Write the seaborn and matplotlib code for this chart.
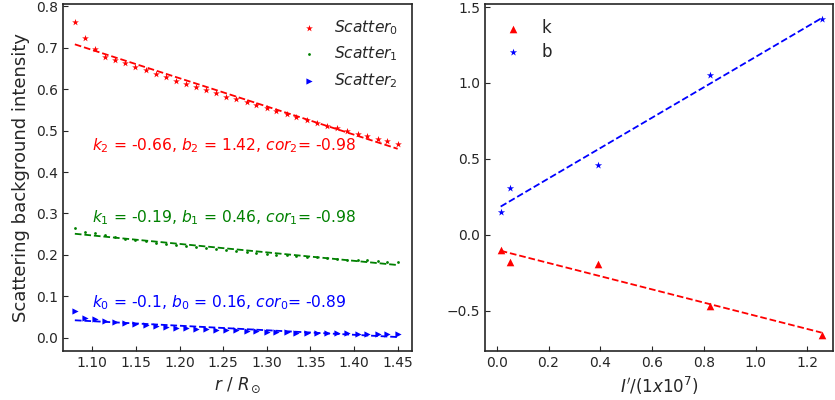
import matplotlib
matplotlib.use("Agg")
import matplotlib.pyplot as plt
import numpy as np
import pandas as pd
import seaborn as sns

# radial distance r / R_sun
r = [1.080, 1.092, 1.103, 1.115, 1.126, 1.138, 1.149, 1.161, 1.173, 1.184, 1.196,
     1.207, 1.219, 1.230, 1.242, 1.253, 1.265, 1.277, 1.288, 1.300, 1.311, 1.323,
     1.334, 1.346, 1.358, 1.369, 1.381, 1.392, 1.404, 1.415, 1.427, 1.438, 1.450]

scatter0 = [0.762, 0.722, 0.697, 0.678, 0.670, 0.662, 0.653, 0.645, 0.637, 0.628, 0.620,
            0.613, 0.605, 0.597, 0.590, 0.582, 0.575, 0.568, 0.561, 0.554, 0.547, 0.540,
            0.533, 0.526, 0.519, 0.512, 0.505, 0.499, 0.492, 0.486, 0.480, 0.474, 0.468]
scatter1 = [0.265, 0.256, 0.252, 0.247, 0.243, 0.239, 0.236, 0.233, 0.230, 0.227, 0.224,
            0.221, 0.219, 0.216, 0.214, 0.211, 0.209, 0.207, 0.205, 0.203, 0.201, 0.199,
            0.197, 0.196, 0.194, 0.192, 0.191, 0.189, 0.188, 0.187, 0.185, 0.184, 0.183]
scatter2 = [0.065, 0.048, 0.045, 0.041, 0.038, 0.035, 0.033, 0.031, 0.029, 0.027, 0.025,
            0.024, 0.022, 0.021, 0.020, 0.019, 0.018, 0.017, 0.016, 0.015, 0.015, 0.014,
            0.013, 0.013, 0.012, 0.012, 0.011, 0.011, 0.010, 0.010, 0.010, 0.009, 0.009]

fit_texts = ["$k_0$ = -0.1, $b_0$ = 0.16, $cor_0$= -0.89",
             "$k_1$ = -0.19, $b_1$ = 0.46, $cor_1$= -0.98",
             "$k_2$ = -0.66, $b_2$ = 1.42, $cor_2$= -0.98"]
text_pos = [(1.10, 0.085), (1.10, 0.29), (1.10, 0.463)]

# right panel: fit parameters vs intensity
intensity = [0.015, 0.05, 0.39, 0.825, 1.255]
k_vals = [-0.10, -0.18, -0.19, -0.47, -0.66]
b_vals = [0.15, 0.31, 0.46, 1.05, 1.42]

sns.set_style("ticks", {"xtick.direction": "in", "ytick.direction": "in"})
plt.rcParams["font.family"] = ["DejaVu Sans"]
plt.rcParams["mathtext.fontset"] = "dejavusans"

fig = plt.figure(figsize=(8.35, 4.0), dpi=100)
ax1 = fig.add_axes([0.075, 0.123, 0.419, 0.867])
ax2 = fig.add_axes([0.581, 0.123, 0.417, 0.867])

df = pd.DataFrame({"r": r, "s0": scatter0, "s1": scatter1, "s2": scatter2})
series = [("s0", "red", "*", 26, "$Scatter_0$"),
          ("s1", "green", ".", 16, "$Scatter_1$"),
          ("s2", "blue", ">", 20, "$Scatter_2$")]
for col, c, m, s, lab in series:
    sns.regplot(data=df, x="r", y=col, ax=ax1, ci=None, color=c, marker=m, label=lab,
                scatter_kws={"s": s, "linewidths": 0, "alpha": 1},
                line_kws={"ls": "--", "lw": 1.3})

for (tx, ty), txt, c in zip(text_pos, fit_texts, ["blue", "green", "red"]):
    ax1.text(tx, ty, txt, color=c, fontsize=11.2, va="center")

ax1.set_xlim(1.066, 1.467)
ax1.set_ylim(-0.031, 0.805)
ax1.set_xticks([1.10, 1.15, 1.20, 1.25, 1.30, 1.35, 1.40, 1.45])
ax1.set_yticks([0.0, 0.1, 0.2, 0.3, 0.4, 0.5, 0.6, 0.7, 0.8])
ax1.xaxis.set_major_formatter(matplotlib.ticker.FormatStrFormatter("%.2f"))
ax1.yaxis.set_major_formatter(matplotlib.ticker.FormatStrFormatter("%.1f"))
ax1.set_xlabel(r"$r$ / $R_\odot$", fontsize=12)
ax1.set_ylabel("Scattering background intensity", fontsize=13)
ax1.legend(loc="upper right", frameon=False, fontsize=11.2, handletextpad=0.8,
           handlelength=1.6, labelspacing=0.5, borderaxespad=0.5)

df2 = pd.DataFrame({"I": intensity, "k": k_vals, "b": b_vals})
sns.regplot(data=df2, x="I", y="k", ax=ax2, ci=None, color="red", marker="^", label="k",
            scatter_kws={"s": 30, "linewidths": 0, "alpha": 1},
            line_kws={"ls": "--", "lw": 1.3})
sns.regplot(data=df2, x="I", y="b", ax=ax2, ci=None, color="blue", marker="*", label="b",
            scatter_kws={"s": 30, "linewidths": 0, "alpha": 1},
            line_kws={"ls": "--", "lw": 1.3})
ax2.set_xlim(-0.045, 1.30)
ax2.set_ylim(-0.765, 1.52)
ax2.set_xticks([0.0, 0.2, 0.4, 0.6, 0.8, 1.0, 1.2])
ax2.set_yticks([-0.5, 0.0, 0.5, 1.0, 1.5])
ax2.set_xlabel(r"$I'/(1x10^7)$", fontsize=12)
ax2.set_ylabel("")
ax2.legend(loc="upper left", frameon=False, fontsize=12, handletextpad=0.9,
           handlelength=1.6, labelspacing=0.35, borderaxespad=0.5)

for ax in (ax1, ax2):
    ax.tick_params(labelsize=10)
    for sp in ax.spines.values():
        sp.set_visible(True)
        sp.set_linewidth(1.2)

fig.savefig("out.png", dpi=100)
